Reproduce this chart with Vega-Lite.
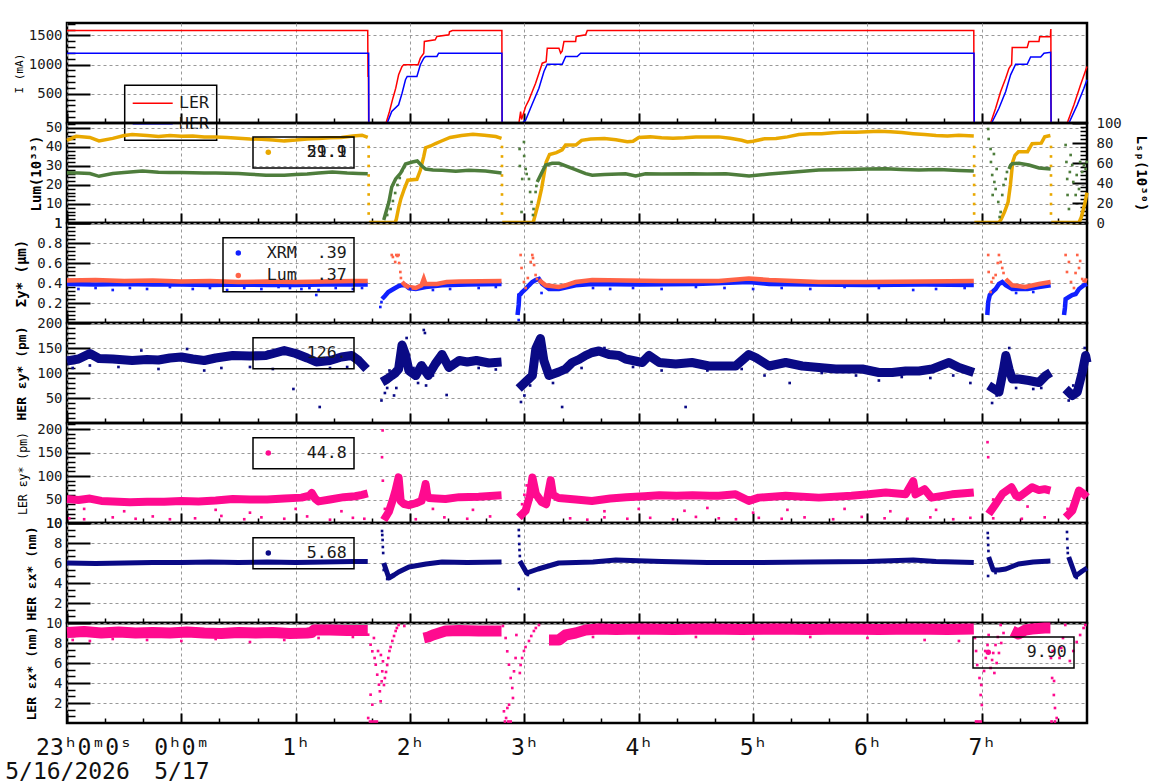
{
"$schema":"https://vega.github.io/schema/vega-lite/v6.json",
"background":"white",
"padding":{"left":0,"top":21,"right":5,"bottom":2},
"autosize":{"type":"pad"},
"config":{
 "font":"DejaVu Sans Mono",
 "view":{"stroke":"#000","strokeWidth":2.5},
 "axis":{"labelFont":"DejaVu Sans Mono","labelFontSize":14,"labelColor":"#1a1a1a","titleFont":"DejaVu Sans Mono","titleColor":"#000","tickColor":"#000","domain":false,"gridColor":"#999999","gridDash":[3,3],"gridWidth":1,"labelFlush":false,"labelOverlap":false,"zindex":0},
 "legend":{"labelFont":"DejaVu Sans Mono","labelFontSize":16.6,"labelColor":"#1a1a1a","strokeWidth":1.5,"titleFontSize":1}
},
"datasets":{
"cur":[
{"t":-1,"v":1585,"s":"LER"},{"t":1.63,"v":1585,"s":"LER"},{"t":1.632,"v":800,"s":"LER"},{"t":1.636,"v":800,"s":"LER"},{"t":1.638,"v":0,"s":"LER"},{"t":1.79,"v":0,"s":"LER"},{"t":1.82,"v":197,"s":"LER"},{"t":1.85,"v":425,"s":"LER"},{"t":1.875,"v":596,"s":"LER"},{"t":1.9,"v":825,"s":"LER"},{"t":1.93,"v":967,"s":"LER"},{"t":1.945,"v":997,"s":"LER"},{"t":2.07,"v":997,"s":"LER"},{"t":2.09,"v":1110,"s":"LER"},{"t":2.12,"v":1195,"s":"LER"},{"t":2.125,"v":1396,"s":"LER"},{"t":2.22,"v":1424,"s":"LER"},{"t":2.235,"v":1481,"s":"LER"},{"t":2.34,"v":1510,"s":"LER"},{"t":2.345,"v":1560,"s":"LER"},{"t":2.37,"v":1584,"s":"LER"},{"t":2.803,"v":1584,"s":"LER"},{"t":2.805,"v":0,"s":"LER"},{"t":2.952,"v":0,"s":"LER"},{"t":2.967,"v":197,"s":"LER"},{"t":2.975,"v":60,"s":"LER"},{"t":3.011,"v":283,"s":"LER"},{"t":3.04,"v":396,"s":"LER"},{"t":3.069,"v":538,"s":"LER"},{"t":3.098,"v":681,"s":"LER"},{"t":3.127,"v":853,"s":"LER"},{"t":3.156,"v":1024,"s":"LER"},{"t":3.19,"v":1050,"s":"LER"},{"t":3.2,"v":1281,"s":"LER"},{"t":3.302,"v":1281,"s":"LER"},{"t":3.317,"v":1195,"s":"LER"},{"t":3.33,"v":1230,"s":"LER"},{"t":3.346,"v":1396,"s":"LER"},{"t":3.448,"v":1396,"s":"LER"},{"t":3.453,"v":1481,"s":"LER"},{"t":3.536,"v":1510,"s":"LER"},{"t":3.55,"v":1584,"s":"LER"},{"t":6.93,"v":1584,"s":"LER"},{"t":6.932,"v":0,"s":"LER"},{"t":7.077,"v":0,"s":"LER"},{"t":7.121,"v":253,"s":"LER"},{"t":7.165,"v":539,"s":"LER"},{"t":7.209,"v":767,"s":"LER"},{"t":7.238,"v":938,"s":"LER"},{"t":7.261,"v":1005,"s":"LER"},{"t":7.266,"v":1293,"s":"LER"},{"t":7.397,"v":1293,"s":"LER"},{"t":7.412,"v":1396,"s":"LER"},{"t":7.5,"v":1396,"s":"LER"},{"t":7.506,"v":1476,"s":"LER"},{"t":7.6,"v":1476,"s":"LER"},{"t":7.602,"v":1567,"s":"LER"},{"t":7.604,"v":1610,"s":"LER"},{"t":7.606,"v":0,"s":"LER"},{"t":7.747,"v":0,"s":"LER"},{"t":7.806,"v":311,"s":"LER"},{"t":7.864,"v":653,"s":"LER"},{"t":7.92,"v":967,"s":"LER"},
{"t":-1,"v":1195,"s":"HER"},{"t":1.638,"v":1195,"s":"HER"},{"t":1.64,"v":0,"s":"HER"},{"t":1.8,"v":0,"s":"HER"},{"t":1.84,"v":197,"s":"HER"},{"t":1.9,"v":311,"s":"HER"},{"t":1.93,"v":510,"s":"HER"},{"t":1.96,"v":740,"s":"HER"},{"t":1.975,"v":796,"s":"HER"},{"t":2.06,"v":796,"s":"HER"},{"t":2.09,"v":997,"s":"HER"},{"t":2.12,"v":1110,"s":"HER"},{"t":2.135,"v":1139,"s":"HER"},{"t":2.235,"v":1139,"s":"HER"},{"t":2.25,"v":1195,"s":"HER"},{"t":2.803,"v":1195,"s":"HER"},{"t":2.805,"v":0,"s":"HER"},{"t":2.981,"v":0,"s":"HER"},{"t":3.011,"v":50,"s":"HER"},{"t":3.066,"v":311,"s":"HER"},{"t":3.127,"v":596,"s":"HER"},{"t":3.171,"v":881,"s":"HER"},{"t":3.2,"v":1005,"s":"HER"},{"t":3.331,"v":1005,"s":"HER"},{"t":3.361,"v":1139,"s":"HER"},{"t":3.462,"v":1139,"s":"HER"},{"t":3.492,"v":1195,"s":"HER"},{"t":6.932,"v":1195,"s":"HER"},{"t":6.934,"v":0,"s":"HER"},{"t":7.086,"v":0,"s":"HER"},{"t":7.15,"v":253,"s":"HER"},{"t":7.209,"v":539,"s":"HER"},{"t":7.252,"v":824,"s":"HER"},{"t":7.296,"v":1005,"s":"HER"},{"t":7.397,"v":1005,"s":"HER"},{"t":7.427,"v":1131,"s":"HER"},{"t":7.515,"v":1131,"s":"HER"},{"t":7.544,"v":1195,"s":"HER"},{"t":7.602,"v":1210,"s":"HER"},{"t":7.606,"v":0,"s":"HER"},{"t":7.762,"v":0,"s":"HER"},{"t":7.835,"v":311,"s":"HER"},{"t":7.893,"v":596,"s":"HER"},{"t":7.92,"v":740,"s":"HER"}
],
"lum":[
{"t":-1,"v":43.5,"g":1},{"t":-0.92,"v":45.6,"g":1},{"t":-0.8,"v":45,"g":1},{"t":-0.72,"v":43.2,"g":1},{"t":-0.6,"v":44.5,"g":1},{"t":-0.5,"v":46,"g":1},{"t":-0.43,"v":46.5,"g":1},{"t":-0.3,"v":46,"g":1},{"t":-0.2,"v":45.5,"g":1},{"t":-0.1,"v":46,"g":1},{"t":0,"v":45.6,"g":1},{"t":0.1,"v":45.8,"g":1},{"t":0.2,"v":45.3,"g":1},{"t":0.3,"v":45.2,"g":1},{"t":0.4,"v":45,"g":1},{"t":0.5,"v":44.6,"g":1},{"t":0.6,"v":44.2,"g":1},{"t":0.7,"v":44,"g":1},{"t":0.8,"v":43.7,"g":1},{"t":0.9,"v":43.2,"g":1},{"t":1,"v":43.6,"g":1},{"t":1.1,"v":44.2,"g":1},{"t":1.2,"v":44.4,"g":1},{"t":1.3,"v":44.8,"g":1},{"t":1.4,"v":45,"g":1},{"t":1.5,"v":45.8,"g":1},{"t":1.58,"v":46.2,"g":1},{"t":1.63,"v":45,"g":1},
{"t":1.64,"v":0.3,"g":2},{"t":1.87,"v":0.3,"g":2},{"t":1.88,"v":2,"g":2},{"t":1.9,"v":8,"g":2},{"t":1.92,"v":12.8,"g":2},{"t":1.95,"v":18,"g":2},{"t":1.98,"v":22.5,"g":2},{"t":2.06,"v":23,"g":2},{"t":2.09,"v":27.7,"g":2},{"t":2.12,"v":35,"g":2},{"t":2.136,"v":39.6,"g":2},{"t":2.18,"v":40.5,"g":2},{"t":2.223,"v":41.8,"g":2},{"t":2.27,"v":43,"g":2},{"t":2.35,"v":45,"g":2},{"t":2.45,"v":46,"g":2},{"t":2.55,"v":46.7,"g":2},{"t":2.65,"v":46.2,"g":2},{"t":2.75,"v":45.5,"g":2},{"t":2.8,"v":44.5,"g":2},
{"t":2.806,"v":0.3,"g":3},{"t":3.07,"v":0.3,"g":3},{"t":3.08,"v":1,"g":3},{"t":3.12,"v":10,"g":3},{"t":3.15,"v":18,"g":3},{"t":3.17,"v":25,"g":3},{"t":3.19,"v":32,"g":3},{"t":3.22,"v":36,"g":3},{"t":3.28,"v":37,"g":3},{"t":3.33,"v":38.5,"g":3},{"t":3.36,"v":41,"g":3},{"t":3.45,"v":41,"g":3},{"t":3.5,"v":43.5,"g":3},{"t":3.58,"v":44.2,"g":3},{"t":3.7,"v":44.4,"g":3},{"t":3.8,"v":43.8,"g":3},{"t":3.9,"v":42.8,"g":3},{"t":3.95,"v":43,"g":3},{"t":4,"v":45,"g":3},{"t":4.1,"v":45.3,"g":3},{"t":4.2,"v":44.8,"g":3},{"t":4.3,"v":44.6,"g":3},{"t":4.4,"v":44.8,"g":3},{"t":4.5,"v":45.2,"g":3},{"t":4.6,"v":45.3,"g":3},{"t":4.7,"v":45.3,"g":3},{"t":4.8,"v":44.6,"g":3},{"t":4.9,"v":43.5,"g":3},{"t":4.95,"v":42.6,"g":3},{"t":5,"v":43,"g":3},{"t":5.1,"v":44.3,"g":3},{"t":5.2,"v":44.5,"g":3},{"t":5.3,"v":45.3,"g":3},{"t":5.4,"v":46.5,"g":3},{"t":5.5,"v":47,"g":3},{"t":5.6,"v":47,"g":3},{"t":5.7,"v":47.5,"g":3},{"t":5.8,"v":47.8,"g":3},{"t":5.9,"v":47.8,"g":3},{"t":6,"v":48,"g":3},{"t":6.1,"v":48.2,"g":3},{"t":6.2,"v":48,"g":3},{"t":6.3,"v":47.6,"g":3},{"t":6.4,"v":47,"g":3},{"t":6.5,"v":46.5,"g":3},{"t":6.6,"v":46,"g":3},{"t":6.7,"v":45.8,"g":3},{"t":6.8,"v":46.2,"g":3},{"t":6.93,"v":45.8,"g":3},
{"t":6.935,"v":0.3,"g":4},{"t":7.15,"v":0.3,"g":4},{"t":7.17,"v":2,"g":4},{"t":7.2,"v":6,"g":4},{"t":7.23,"v":11,"g":4},{"t":7.25,"v":20,"g":4},{"t":7.27,"v":32,"g":4},{"t":7.29,"v":35.6,"g":4},{"t":7.32,"v":37.5,"g":4},{"t":7.4,"v":37.5,"g":4},{"t":7.44,"v":41.7,"g":4},{"t":7.52,"v":42,"g":4},{"t":7.55,"v":45.3,"g":4},{"t":7.6,"v":46,"g":4},
{"t":7.607,"v":0.3,"g":5},{"t":7.85,"v":0.3,"g":5},{"t":7.87,"v":3,"g":5},{"t":7.9,"v":10,"g":5},{"t":7.92,"v":16,"g":5}
],
"lumPts":[
{"t":1.638,"v":40},{"t":1.638,"v":35},{"t":1.638,"v":30},{"t":1.638,"v":25},{"t":1.638,"v":20},{"t":1.638,"v":15},{"t":1.638,"v":10},{"t":1.638,"v":5},
{"t":2.804,"v":40},{"t":2.804,"v":35},{"t":2.804,"v":30},{"t":2.804,"v":25},{"t":2.804,"v":20},{"t":2.804,"v":15},{"t":2.804,"v":10},{"t":2.804,"v":5},
{"t":6.933,"v":40},{"t":6.933,"v":35},{"t":6.933,"v":30},{"t":6.933,"v":25},{"t":6.933,"v":20},{"t":6.933,"v":15},{"t":6.933,"v":10},{"t":6.933,"v":5},
{"t":7.605,"v":40},{"t":7.605,"v":35},{"t":7.605,"v":30},{"t":7.605,"v":25},{"t":7.605,"v":20},{"t":7.605,"v":15},{"t":7.605,"v":10},{"t":7.605,"v":5}
],
"lsp":[
{"t":-1,"v":50.3,"g":1},{"t":-0.9,"v":50,"g":1},{"t":-0.8,"v":49.5,"g":1},{"t":-0.72,"v":46.7,"g":1},{"t":-0.6,"v":49.5,"g":1},{"t":-0.5,"v":50.5,"g":1},{"t":-0.34,"v":52,"g":1},{"t":-0.2,"v":50.8,"g":1},{"t":-0.1,"v":50.5,"g":1},{"t":0,"v":50.5,"g":1},{"t":0.1,"v":50.3,"g":1},{"t":0.2,"v":50,"g":1},{"t":0.3,"v":50,"g":1},{"t":0.4,"v":49.8,"g":1},{"t":0.5,"v":49.5,"g":1},{"t":0.6,"v":48.8,"g":1},{"t":0.74,"v":47.7,"g":1},{"t":0.9,"v":47.8,"g":1},{"t":1,"v":48.5,"g":1},{"t":1.1,"v":49,"g":1},{"t":1.2,"v":50,"g":1},{"t":1.32,"v":51,"g":1},{"t":1.45,"v":50,"g":1},{"t":1.55,"v":49.5,"g":1},{"t":1.63,"v":49.3,"g":1},
{"t":1.77,"v":3,"g":2},{"t":1.815,"v":21,"g":2},{"t":1.84,"v":36,"g":2},{"t":1.874,"v":44,"g":2},{"t":1.918,"v":50,"g":2},{"t":1.96,"v":59,"g":2},{"t":2.02,"v":61,"g":2},{"t":2.063,"v":62,"g":2},{"t":2.104,"v":57,"g":2},{"t":2.136,"v":54,"g":2},{"t":2.2,"v":53,"g":2},{"t":2.28,"v":52.7,"g":2},{"t":2.4,"v":51.7,"g":2},{"t":2.515,"v":52.7,"g":2},{"t":2.66,"v":52,"g":2},{"t":2.8,"v":50,"g":2},
{"t":3.112,"v":41,"g":3},{"t":3.142,"v":48,"g":3},{"t":3.186,"v":58,"g":3},{"t":3.243,"v":59.7,"g":3},{"t":3.302,"v":59.7,"g":3},{"t":3.418,"v":54.7,"g":3},{"t":3.536,"v":49.3,"g":3},{"t":3.593,"v":47.7,"g":3},{"t":3.7,"v":48.5,"g":3},{"t":3.885,"v":49.3,"g":3},{"t":3.973,"v":47,"g":3},{"t":4.06,"v":49.3,"g":3},{"t":4.2,"v":49,"g":3},{"t":4.465,"v":49.3,"g":3},{"t":4.6,"v":49,"g":3},{"t":4.762,"v":49.3,"g":3},{"t":4.965,"v":47,"g":3},{"t":5.14,"v":49,"g":3},{"t":5.31,"v":50.5,"g":3},{"t":5.575,"v":53,"g":3},{"t":5.84,"v":53.5,"g":3},{"t":6,"v":54,"g":3},{"t":6.16,"v":54.3,"g":3},{"t":6.3,"v":53.5,"g":3},{"t":6.45,"v":53,"g":3},{"t":6.625,"v":53.5,"g":3},{"t":6.8,"v":52.5,"g":3},{"t":6.93,"v":52,"g":3},
{"t":7.238,"v":54,"g":4},{"t":7.252,"v":57.7,"g":4},{"t":7.266,"v":59.3,"g":4},{"t":7.325,"v":59.7,"g":4},{"t":7.412,"v":58,"g":4},{"t":7.5,"v":55,"g":4},{"t":7.602,"v":54,"g":4}
],
"lspPts":[
{"t":1.8,"v":8},{"t":1.83,"v":14},{"t":1.85,"v":22},{"t":1.87,"v":30},{"t":1.89,"v":38},{"t":1.91,"v":45},{"t":1.93,"v":52},{"t":1.95,"v":56},
{"t":2.958,"v":74},{"t":2.96,"v":57},{"t":2.981,"v":44},{"t":2.975,"v":11},{"t":2.996,"v":81},{"t":2.998,"v":67},{"t":3.011,"v":54},{"t":3.02,"v":49},{"t":3.04,"v":44},{"t":3.05,"v":31},{"t":3.063,"v":21},{"t":3.075,"v":8},{"t":3.08,"v":14},{"t":3.098,"v":31},{"t":3.105,"v":37},
{"t":7.056,"v":94},{"t":7.06,"v":84},{"t":7.077,"v":74},{"t":7.08,"v":61},{"t":7.091,"v":48},{"t":7.095,"v":28},{"t":7.106,"v":69},{"t":7.11,"v":41},{"t":7.121,"v":34},{"t":7.13,"v":54},{"t":7.144,"v":21},{"t":7.156,"v":6},{"t":7.165,"v":11},{"t":7.179,"v":28},{"t":7.19,"v":38},{"t":7.209,"v":44},{"t":7.22,"v":51},
{"t":7.733,"v":78},{"t":7.74,"v":61},{"t":7.747,"v":44},{"t":7.75,"v":28},{"t":7.762,"v":14},{"t":7.77,"v":51},{"t":7.777,"v":68},{"t":7.791,"v":58},{"t":7.8,"v":41},{"t":7.821,"v":28},{"t":7.83,"v":48},{"t":7.85,"v":34},{"t":7.86,"v":61},{"t":7.878,"v":51},{"t":7.893,"v":58},{"t":7.908,"v":54},{"t":7.918,"v":61}
],
"slum":[
{"t":-1,"v":0.425,"g":1},{"t":-0.75,"v":0.43,"g":1},{"t":-0.5,"v":0.42,"g":1},{"t":-0.25,"v":0.425,"g":1},{"t":0,"v":0.415,"g":1},{"t":0.25,"v":0.42,"g":1},{"t":0.5,"v":0.41,"g":1},{"t":0.75,"v":0.415,"g":1},{"t":1,"v":0.41,"g":1},{"t":1.25,"v":0.415,"g":1},{"t":1.5,"v":0.42,"g":1},{"t":1.63,"v":0.42,"g":1},
{"t":1.93,"v":0.41,"g":2},{"t":1.96,"v":0.377,"g":2},{"t":1.99,"v":0.36,"g":2},{"t":2.05,"v":0.35,"g":2},{"t":2.1,"v":0.377,"g":2},{"t":2.12,"v":0.44,"g":2},{"t":2.135,"v":0.39,"g":2},{"t":2.235,"v":0.39,"g":2},{"t":2.32,"v":0.41,"g":2},{"t":2.43,"v":0.415,"g":2},{"t":2.8,"v":0.42,"g":2},
{"t":3.127,"v":0.43,"g":3},{"t":3.186,"v":0.377,"g":3},{"t":3.3,"v":0.36,"g":3},{"t":3.36,"v":0.377,"g":3},{"t":3.448,"v":0.41,"g":3},{"t":3.593,"v":0.43,"g":3},{"t":3.885,"v":0.425,"g":3},{"t":4.2,"v":0.42,"g":3},{"t":4.465,"v":0.42,"g":3},{"t":4.7,"v":0.42,"g":3},{"t":4.963,"v":0.445,"g":3},{"t":5.14,"v":0.43,"g":3},{"t":5.575,"v":0.41,"g":3},{"t":6,"v":0.41,"g":3},{"t":6.5,"v":0.415,"g":3},{"t":6.93,"v":0.42,"g":3},
{"t":7.209,"v":0.44,"g":4},{"t":7.266,"v":0.377,"g":4},{"t":7.38,"v":0.36,"g":4},{"t":7.5,"v":0.39,"g":4},{"t":7.602,"v":0.41,"g":4},
{"t":7.893,"v":0.43,"g":5},{"t":7.92,"v":0.42,"g":5}
],
"slumPts":[
{"t":1.84,"v":0.68},{"t":1.85,"v":0.66},{"t":1.87,"v":0.61},{"t":1.88,"v":0.68},{"t":1.89,"v":0.67},{"t":1.9,"v":0.68},{"t":1.905,"v":0.6},{"t":1.915,"v":0.51},{"t":1.92,"v":0.45},
{"t":2.967,"v":0.68},{"t":2.975,"v":0.55},{"t":2.996,"v":0.41},{"t":3.011,"v":0.35},{"t":3.03,"v":0.45},{"t":3.055,"v":0.61},{"t":3.069,"v":0.68},{"t":3.075,"v":0.65},{"t":3.085,"v":0.58},{"t":3.098,"v":0.48},{"t":3.11,"v":0.44},
{"t":7.056,"v":0.68},{"t":7.06,"v":0.51},{"t":7.077,"v":0.31},{"t":7.085,"v":0.41},{"t":7.1,"v":0.45},{"t":7.121,"v":0.48},{"t":7.14,"v":0.6},{"t":7.15,"v":0.68},{"t":7.165,"v":0.61},{"t":7.179,"v":0.55},{"t":7.19,"v":0.5},
{"t":7.733,"v":0.68},{"t":7.745,"v":0.51},{"t":7.762,"v":0.61},{"t":7.78,"v":0.41},{"t":7.806,"v":0.35},{"t":7.82,"v":0.5},{"t":7.835,"v":0.68},{"t":7.85,"v":0.55},{"t":7.86,"v":0.62},{"t":7.878,"v":0.44},{"t":7.89,"v":0.42}
],
"sxrm":[
{"t":-1,"v":0.39,"g":1},{"t":-0.75,"v":0.385,"g":1},{"t":-0.5,"v":0.39,"g":1},{"t":-0.25,"v":0.385,"g":1},{"t":0,"v":0.385,"g":1},{"t":0.25,"v":0.38,"g":1},{"t":0.5,"v":0.385,"g":1},{"t":0.75,"v":0.38,"g":1},{"t":1,"v":0.38,"g":1},{"t":1.25,"v":0.385,"g":1},{"t":1.5,"v":0.385,"g":1},{"t":1.63,"v":0.385,"g":1},
{"t":1.755,"v":0.24,"g":2},{"t":1.78,"v":0.27,"g":2},{"t":1.81,"v":0.31,"g":2},{"t":1.84,"v":0.33,"g":2},{"t":1.87,"v":0.35,"g":2},{"t":1.9,"v":0.37,"g":2},{"t":1.93,"v":0.38,"g":2},{"t":1.96,"v":0.377,"g":2},{"t":1.99,"v":0.35,"g":2},{"t":2.05,"v":0.34,"g":2},{"t":2.136,"v":0.36,"g":2},{"t":2.28,"v":0.377,"g":2},{"t":2.5,"v":0.385,"g":2},{"t":2.8,"v":0.39,"g":2},
{"t":2.94,"v":0.08,"g":3},{"t":2.95,"v":0.18,"g":3},{"t":2.955,"v":0.28,"g":3},{"t":2.967,"v":0.29,"g":3},{"t":2.981,"v":0.31,"g":3},{"t":3.011,"v":0.34,"g":3},{"t":3.04,"v":0.377,"g":3},{"t":3.069,"v":0.41,"g":3},{"t":3.098,"v":0.43,"g":3},{"t":3.127,"v":0.44,"g":3},{"t":3.156,"v":0.39,"g":3},{"t":3.215,"v":0.34,"g":3},{"t":3.302,"v":0.34,"g":3},{"t":3.448,"v":0.377,"g":3},{"t":3.593,"v":0.39,"g":3},{"t":4,"v":0.385,"g":3},{"t":4.5,"v":0.39,"g":3},{"t":4.963,"v":0.41,"g":3},{"t":5.14,"v":0.39,"g":3},{"t":5.5,"v":0.385,"g":3},{"t":6,"v":0.38,"g":3},{"t":6.5,"v":0.385,"g":3},{"t":6.93,"v":0.38,"g":3},
{"t":7.048,"v":0.08,"g":4},{"t":7.056,"v":0.21,"g":4},{"t":7.07,"v":0.28,"g":4},{"t":7.091,"v":0.31,"g":4},{"t":7.121,"v":0.34,"g":4},{"t":7.15,"v":0.39,"g":4},{"t":7.179,"v":0.41,"g":4},{"t":7.209,"v":0.377,"g":4},{"t":7.266,"v":0.34,"g":4},{"t":7.4,"v":0.34,"g":4},{"t":7.5,"v":0.36,"g":4},{"t":7.602,"v":0.377,"g":4},
{"t":7.719,"v":0.08,"g":5},{"t":7.727,"v":0.15,"g":5},{"t":7.733,"v":0.24,"g":5},{"t":7.762,"v":0.26,"g":5},{"t":7.79,"v":0.28,"g":5},{"t":7.821,"v":0.29,"g":5},{"t":7.85,"v":0.34,"g":5},{"t":7.893,"v":0.377,"g":5},{"t":7.92,"v":0.39,"g":5}
],
"sxrmPts":[
{"t":-0.9,"v":0.34},{"t":-0.75,"v":0.35},{"t":-0.6,"v":0.33},{"t":-0.45,"v":0.35},{"t":-0.3,"v":0.34},{"t":-0.1,"v":0.36},{"t":0.1,"v":0.34},{"t":0.25,"v":0.35},{"t":0.4,"v":0.33},{"t":0.55,"v":0.35},{"t":0.7,"v":0.34},{"t":0.85,"v":0.36},{"t":0.95,"v":0.35},{"t":1.05,"v":0.34},{"t":1.12,"v":0.35},{"t":1.18,"v":0.28},{"t":1.2,"v":0.33},{"t":1.35,"v":0.35},{"t":1.5,"v":0.34},{"t":1.58,"v":0.35},{"t":2,"v":0.34},{"t":2.2,"v":0.33},{"t":2.35,"v":0.34},{"t":2.6,"v":0.35},{"t":2.75,"v":0.36},{"t":3.6,"v":0.35},{"t":3.75,"v":0.34},{"t":3.95,"v":0.35},{"t":4.2,"v":0.34},{"t":4.5,"v":0.36},{"t":4.75,"v":0.35},{"t":5,"v":0.34},{"t":5.25,"v":0.35},{"t":5.5,"v":0.34},{"t":5.8,"v":0.36},{"t":6.1,"v":0.35},{"t":6.4,"v":0.33},{"t":6.6,"v":0.34},{"t":6.85,"v":0.35},{"t":1.74,"v":0.16},{"t":1.75,"v":0.21},{"t":2.945,"v":0.12},{"t":2.95,"v":0.03},{"t":7.05,"v":0.12},{"t":7.72,"v":0.11},{"t":3.15,"v":0.3},{"t":7.3,"v":0.3},{"t":7.45,"v":0.31}
],
"hey":[
{"t":-1,"v":124,"g":1},{"t":-0.9,"v":128,"g":1},{"t":-0.8,"v":139,"g":1},{"t":-0.72,"v":129,"g":1},{"t":-0.6,"v":128,"g":1},{"t":-0.43,"v":125,"g":1},{"t":-0.3,"v":127,"g":1},{"t":-0.2,"v":126,"g":1},{"t":-0.1,"v":130,"g":1},{"t":0,"v":132,"g":1},{"t":0.1,"v":128,"g":1},{"t":0.2,"v":125,"g":1},{"t":0.3,"v":130,"g":1},{"t":0.45,"v":135,"g":1},{"t":0.6,"v":134,"g":1},{"t":0.74,"v":135,"g":1},{"t":0.9,"v":145,"g":1},{"t":1,"v":139,"g":1},{"t":1.1,"v":130,"g":1},{"t":1.18,"v":122,"g":1},{"t":1.3,"v":125,"g":1},{"t":1.4,"v":132,"g":1},{"t":1.49,"v":135,"g":1},{"t":1.55,"v":125,"g":1},{"t":1.62,"v":108,"g":1},
{"t":1.755,"v":82,"g":2},{"t":1.8,"v":88,"g":2},{"t":1.84,"v":95,"g":2},{"t":1.87,"v":100,"g":2},{"t":1.9,"v":108,"g":2},{"t":1.93,"v":156,"g":2},{"t":1.96,"v":137,"g":2},{"t":1.99,"v":105,"g":2},{"t":2.05,"v":95,"g":2},{"t":2.1,"v":115,"g":2},{"t":2.16,"v":95,"g":2},{"t":2.22,"v":118,"g":2},{"t":2.28,"v":137,"g":2},{"t":2.34,"v":111,"g":2},{"t":2.43,"v":125,"g":2},{"t":2.5,"v":122,"g":2},{"t":2.58,"v":125,"g":2},{"t":2.69,"v":120,"g":2},{"t":2.8,"v":122,"g":2},
{"t":2.95,"v":69,"g":3},{"t":3.01,"v":82,"g":3},{"t":3.07,"v":95,"g":3},{"t":3.1,"v":149,"g":3},{"t":3.14,"v":169,"g":3},{"t":3.17,"v":125,"g":3},{"t":3.215,"v":95,"g":3},{"t":3.3,"v":102,"g":3},{"t":3.36,"v":108,"g":3},{"t":3.418,"v":121,"g":3},{"t":3.477,"v":127,"g":3},{"t":3.535,"v":135,"g":3},{"t":3.593,"v":141,"g":3},{"t":3.652,"v":144,"g":3},{"t":3.74,"v":137,"g":3},{"t":3.827,"v":135,"g":3},{"t":3.885,"v":128,"g":3},{"t":4.03,"v":121,"g":3},{"t":4.09,"v":135,"g":3},{"t":4.18,"v":121,"g":3},{"t":4.323,"v":118,"g":3},{"t":4.465,"v":121,"g":3},{"t":4.614,"v":114,"g":3},{"t":4.762,"v":114,"g":3},{"t":4.847,"v":114,"g":3},{"t":4.963,"v":137,"g":3},{"t":5.022,"v":131,"g":3},{"t":5.14,"v":114,"g":3},{"t":5.285,"v":121,"g":3},{"t":5.43,"v":114,"g":3},{"t":5.575,"v":111,"g":3},{"t":5.722,"v":108,"g":3},{"t":5.955,"v":108,"g":3},{"t":6.1,"v":101,"g":3},{"t":6.217,"v":101,"g":3},{"t":6.334,"v":104,"g":3},{"t":6.45,"v":104,"g":3},{"t":6.567,"v":108,"g":3},{"t":6.713,"v":121,"g":3},{"t":6.8,"v":111,"g":3},{"t":6.93,"v":101,"g":3},
{"t":7.06,"v":75,"g":4},{"t":7.15,"v":62,"g":4},{"t":7.19,"v":108,"g":4},{"t":7.21,"v":135,"g":4},{"t":7.238,"v":108,"g":4},{"t":7.266,"v":88,"g":4},{"t":7.325,"v":88,"g":4},{"t":7.412,"v":85,"g":4},{"t":7.5,"v":81,"g":4},{"t":7.56,"v":95,"g":4},{"t":7.602,"v":101,"g":4},
{"t":7.733,"v":68,"g":5},{"t":7.791,"v":55,"g":5},{"t":7.835,"v":62,"g":5},{"t":7.878,"v":101,"g":5},{"t":7.908,"v":135,"g":5},{"t":7.92,"v":121,"g":5}
],
"heyPts":[
{"t":-0.95,"v":110},{"t":-0.8,"v":115},{"t":-0.55,"v":112},{"t":-0.35,"v":145},{"t":-0.2,"v":108},{"t":0.05,"v":148},{"t":0.2,"v":105},{"t":0.35,"v":110},{"t":0.6,"v":112},{"t":0.8,"v":108},{"t":0.98,"v":68},{"t":1.21,"v":32},{"t":1.3,"v":110},{"t":1.45,"v":112},{"t":1.75,"v":45},{"t":1.78,"v":60},{"t":1.8,"v":70},{"t":1.82,"v":105},{"t":1.86,"v":55},{"t":1.88,"v":70},{"t":1.97,"v":170},{"t":2.12,"v":186},{"t":2.13,"v":180},{"t":2.03,"v":110},{"t":2.07,"v":80},{"t":2.14,"v":75},{"t":2.2,"v":95},{"t":2.32,"v":56},{"t":2.6,"v":110},{"t":2.75,"v":107},{"t":2.97,"v":42},{"t":3,"v":55},{"t":3.05,"v":75},{"t":3.13,"v":160},{"t":3.12,"v":140},{"t":3.25,"v":80},{"t":3.33,"v":32},{"t":3.5,"v":110},{"t":3.7,"v":150},{"t":3.95,"v":112},{"t":4.2,"v":105},{"t":4.41,"v":32},{"t":4.6,"v":105},{"t":4.9,"v":108},{"t":5.1,"v":95},{"t":5.32,"v":80},{"t":5.6,"v":100},{"t":5.9,"v":95},{"t":6.1,"v":85},{"t":6.3,"v":92},{"t":6.55,"v":90},{"t":6.75,"v":95},{"t":6.9,"v":80},{"t":7.09,"v":40},{"t":7.13,"v":55},{"t":7.17,"v":70},{"t":7.24,"v":150},{"t":7.3,"v":70},{"t":7.45,"v":68},{"t":7.52,"v":70},{"t":7.76,"v":45},{"t":7.8,"v":75},{"t":7.87,"v":90},{"t":7.9,"v":150}
],
"ley":[
{"t":-1,"v":51,"g":1},{"t":-0.9,"v":49,"g":1},{"t":-0.8,"v":52,"g":1},{"t":-0.7,"v":47,"g":1},{"t":-0.6,"v":46,"g":1},{"t":-0.45,"v":44,"g":1},{"t":-0.3,"v":45,"g":1},{"t":-0.15,"v":45,"g":1},{"t":0,"v":47,"g":1},{"t":0.15,"v":46,"g":1},{"t":0.3,"v":48,"g":1},{"t":0.45,"v":51,"g":1},{"t":0.6,"v":50,"g":1},{"t":0.75,"v":50,"g":1},{"t":0.9,"v":52,"g":1},{"t":1.05,"v":54,"g":1},{"t":1.12,"v":58,"g":1},{"t":1.14,"v":64,"g":1},{"t":1.17,"v":52,"g":1},{"t":1.2,"v":46,"g":1},{"t":1.3,"v":50,"g":1},{"t":1.42,"v":55,"g":1},{"t":1.52,"v":57,"g":1},{"t":1.58,"v":60,"g":1},{"t":1.63,"v":63,"g":1},
{"t":1.77,"v":6,"g":2},{"t":1.815,"v":24,"g":2},{"t":1.85,"v":50,"g":2},{"t":1.874,"v":70,"g":2},{"t":1.9,"v":97,"g":2},{"t":1.918,"v":47,"g":2},{"t":1.95,"v":40,"g":2},{"t":1.99,"v":38,"g":2},{"t":2.05,"v":42,"g":2},{"t":2.1,"v":47,"g":2},{"t":2.125,"v":70,"g":2},{"t":2.136,"v":83,"g":2},{"t":2.15,"v":60,"g":2},{"t":2.166,"v":53,"g":2},{"t":2.23,"v":52,"g":2},{"t":2.31,"v":51,"g":2},{"t":2.43,"v":55,"g":2},{"t":2.6,"v":56,"g":2},{"t":2.8,"v":59,"g":2},
{"t":2.952,"v":12,"g":3},{"t":3.01,"v":26,"g":3},{"t":3.05,"v":60,"g":3},{"t":3.07,"v":97,"g":3},{"t":3.1,"v":62,"g":3},{"t":3.15,"v":45,"g":3},{"t":3.19,"v":40,"g":3},{"t":3.23,"v":91,"g":3},{"t":3.25,"v":60,"g":3},{"t":3.3,"v":53,"g":3},{"t":3.45,"v":50,"g":3},{"t":3.59,"v":47,"g":3},{"t":3.75,"v":52,"g":3},{"t":3.89,"v":55,"g":3},{"t":4.05,"v":57,"g":3},{"t":4.18,"v":59,"g":3},{"t":4.33,"v":58,"g":3},{"t":4.47,"v":59,"g":3},{"t":4.62,"v":58,"g":3},{"t":4.7,"v":58,"g":3},{"t":4.847,"v":61,"g":3},{"t":4.963,"v":47,"g":3},{"t":5.05,"v":54,"g":3},{"t":5.285,"v":58,"g":3},{"t":5.575,"v":54,"g":3},{"t":5.86,"v":58,"g":3},{"t":6.01,"v":61,"g":3},{"t":6.16,"v":65,"g":3},{"t":6.334,"v":61,"g":3},{"t":6.4,"v":89,"g":3},{"t":6.42,"v":61,"g":3},{"t":6.5,"v":72,"g":3},{"t":6.56,"v":54,"g":3},{"t":6.74,"v":61,"g":3},{"t":6.93,"v":65,"g":3},
{"t":7.06,"v":19,"g":4},{"t":7.12,"v":40,"g":4},{"t":7.18,"v":62,"g":4},{"t":7.26,"v":76,"g":4},{"t":7.3,"v":58,"g":4},{"t":7.325,"v":55,"g":4},{"t":7.44,"v":76,"g":4},{"t":7.5,"v":70,"g":4},{"t":7.55,"v":72,"g":4},{"t":7.6,"v":69,"g":4},
{"t":7.733,"v":12,"g":5},{"t":7.791,"v":26,"g":5},{"t":7.85,"v":69,"g":5},{"t":7.89,"v":62,"g":5},{"t":7.92,"v":55,"g":5}
],
"leyPts":[
{"t":-0.98,"v":10},{"t":-0.85,"v":8},{"t":-0.6,"v":12},{"t":-0.4,"v":9},{"t":-0.25,"v":14},{"t":-0.1,"v":8},{"t":0.12,"v":10},{"t":0.35,"v":15},{"t":0.55,"v":8},{"t":0.7,"v":12},{"t":0.9,"v":9},{"t":1.1,"v":14},{"t":1.3,"v":7},{"t":1.5,"v":11},{"t":1.6,"v":9},{"t":2.05,"v":8},{"t":2.3,"v":12},{"t":2.5,"v":9},{"t":2.7,"v":14},{"t":3.4,"v":10},{"t":3.55,"v":7},{"t":3.7,"v":12},{"t":3.9,"v":9},{"t":4.1,"v":11},{"t":4.3,"v":8},{"t":4.5,"v":13},{"t":4.7,"v":10},{"t":4.85,"v":8},{"t":5.05,"v":11},{"t":5.25,"v":9},{"t":5.45,"v":12},{"t":5.7,"v":8},{"t":5.95,"v":13},{"t":6.15,"v":10},{"t":6.35,"v":9},{"t":6.55,"v":12},{"t":6.75,"v":8},{"t":6.9,"v":11},{"t":7.1,"v":10},{"t":7.35,"v":9},{"t":7.55,"v":12},
{"t":-0.85,"v":30},{"t":-0.5,"v":25},{"t":0.3,"v":28},{"t":0.6,"v":22},{"t":1,"v":30},{"t":1.4,"v":25},{"t":2.2,"v":30},{"t":2.55,"v":28},{"t":3.7,"v":25},{"t":4,"v":30},{"t":4.4,"v":26},{"t":4.6,"v":32},{"t":5,"v":22},{"t":5.3,"v":28},{"t":5.8,"v":30},{"t":6.2,"v":25},{"t":6.6,"v":28},{"t":7.4,"v":35},
{"t":1.76,"v":197},{"t":1.755,"v":140},{"t":1.762,"v":90},{"t":1.78,"v":30},{"t":1.79,"v":12},{"t":7.05,"v":172},{"t":7.056,"v":140},{"t":2.96,"v":20},{"t":2.98,"v":40},{"t":3,"v":60},{"t":3.02,"v":80},{"t":7.09,"v":30},{"t":7.1,"v":50},{"t":7.75,"v":30}
],
"hex":[
{"t":-1,"v":6,"g":1},{"t":-0.75,"v":5.95,"g":1},{"t":-0.5,"v":6,"g":1},{"t":-0.25,"v":6.05,"g":1},{"t":0,"v":6.05,"g":1},{"t":0.25,"v":6.1,"g":1},{"t":0.5,"v":6.05,"g":1},{"t":0.75,"v":6.1,"g":1},{"t":1,"v":6.05,"g":1},{"t":1.25,"v":6.1,"g":1},{"t":1.5,"v":6.15,"g":1},{"t":1.63,"v":6.15,"g":1},
{"t":1.77,"v":6,"g":2},{"t":1.815,"v":4.5,"g":2},{"t":1.86,"v":4.8,"g":2},{"t":1.9,"v":5.1,"g":2},{"t":1.99,"v":5.6,"g":2},{"t":2.14,"v":5.9,"g":2},{"t":2.28,"v":6.1,"g":2},{"t":2.5,"v":6.05,"g":2},{"t":2.8,"v":6.1,"g":2},
{"t":2.96,"v":6.2,"g":3},{"t":3.02,"v":5,"g":3},{"t":3.12,"v":5.4,"g":3},{"t":3.3,"v":6,"g":3},{"t":3.6,"v":6.1,"g":3},{"t":3.8,"v":6.3,"g":3},{"t":4.2,"v":6.15,"g":3},{"t":4.6,"v":6.05,"g":3},{"t":5,"v":6.05,"g":3},{"t":5.5,"v":6.1,"g":3},{"t":6,"v":6.15,"g":3},{"t":6.4,"v":6.3,"g":3},{"t":6.6,"v":6.15,"g":3},{"t":6.93,"v":6.05,"g":3},
{"t":7.06,"v":6.6,"g":4},{"t":7.1,"v":5.3,"g":4},{"t":7.15,"v":5.3,"g":4},{"t":7.21,"v":5.4,"g":4},{"t":7.32,"v":5.9,"g":4},{"t":7.45,"v":6.1,"g":4},{"t":7.6,"v":6.2,"g":4},
{"t":7.76,"v":6.6,"g":5},{"t":7.82,"v":4.7,"g":5},{"t":7.88,"v":5.2,"g":5},{"t":7.92,"v":5.5,"g":5}
],
"hexPts":[
{"t":1.755,"v":9.2},{"t":1.757,"v":8.8},{"t":1.76,"v":8.3},{"t":1.762,"v":7.6},{"t":1.765,"v":7},{"t":1.77,"v":5.3},{"t":2.951,"v":9.3},{"t":2.953,"v":8.7},{"t":2.955,"v":7.9},{"t":2.957,"v":7.3},{"t":2.96,"v":6.7},{"t":2.95,"v":3.4},{"t":7.052,"v":9},{"t":7.054,"v":8.5},{"t":7.056,"v":7.8},{"t":7.058,"v":7.2},{"t":7.055,"v":4.7},{"t":7.745,"v":9.1},{"t":7.747,"v":8.4},{"t":7.75,"v":7.5},{"t":7.752,"v":7},{"t":1.8,"v":4.4},{"t":3.03,"v":4.8},{"t":7.12,"v":5},{"t":7.83,"v":4.5}
],
"lex":[
{"t":-1,"v":9.05,"g":1},{"t":-0.85,"v":9.15,"g":1},{"t":-0.7,"v":9,"g":1},{"t":-0.55,"v":9.1,"g":1},{"t":-0.4,"v":9,"g":1},{"t":-0.25,"v":9.05,"g":1},{"t":-0.1,"v":9,"g":1},{"t":0.05,"v":9.1,"g":1},{"t":0.2,"v":9,"g":1},{"t":0.35,"v":8.95,"g":1},{"t":0.5,"v":9.05,"g":1},{"t":0.65,"v":9,"g":1},{"t":0.8,"v":9.05,"g":1},{"t":0.95,"v":8.95,"g":1},{"t":1.1,"v":9,"g":1},{"t":1.14,"v":9.05,"g":1},{"t":1.16,"v":9.3,"g":1},{"t":1.3,"v":9.3,"g":1},{"t":1.45,"v":9.25,"g":1},{"t":1.63,"v":9.25,"g":1},
{"t":2.12,"v":8.5,"g":3},{"t":2.16,"v":8.6,"g":3},{"t":2.2,"v":8.8,"g":3},{"t":2.31,"v":9.2,"g":3},{"t":2.43,"v":9.25,"g":3},{"t":2.6,"v":9.2,"g":3},{"t":2.8,"v":9.2,"g":3},
{"t":3.215,"v":8.3,"g":4},{"t":3.302,"v":8.3,"g":4},{"t":3.36,"v":8.8,"g":4},{"t":3.448,"v":9,"g":4},{"t":3.536,"v":9.3,"g":4},{"t":3.65,"v":9.4,"g":4},{"t":3.8,"v":9.35,"g":4},{"t":4,"v":9.4,"g":4},{"t":4.3,"v":9.35,"g":4},{"t":4.6,"v":9.4,"g":4},{"t":4.9,"v":9.35,"g":4},{"t":5.2,"v":9.4,"g":4},{"t":5.5,"v":9.35,"g":4},{"t":5.8,"v":9.4,"g":4},{"t":6.1,"v":9.35,"g":4},{"t":6.4,"v":9.4,"g":4},{"t":6.7,"v":9.35,"g":4},{"t":6.93,"v":9.4,"g":4},
{"t":7.266,"v":9.2,"g":5},{"t":7.32,"v":8.9,"g":5},{"t":7.38,"v":9.3,"g":5},{"t":7.44,"v":9.4,"g":5},{"t":7.55,"v":9.5,"g":5},{"t":7.6,"v":9.5,"g":5}
],
"lexPts":[
{"t":-0.95,"v":8.3},{"t":-0.8,"v":8.2},{"t":-0.6,"v":8.4},{"t":-0.3,"v":8.3},{"t":0,"v":8.2},{"t":0.3,"v":8.4},{"t":0.6,"v":8.1},{"t":0.9,"v":8.3},{"t":1.2,"v":8.5},{"t":1.5,"v":8.6},{"t":3.6,"v":8.6},{"t":4,"v":8.5},{"t":4.5,"v":8.6},{"t":5,"v":8.4},{"t":5.5,"v":8.6},{"t":6,"v":8.5},{"t":6.5,"v":8.3},{"t":6.8,"v":8.2},
{"t":1.634,"v":8.83},{"t":1.655,"v":7.83},{"t":1.67,"v":7.17},{"t":1.684,"v":8.5},{"t":1.7,"v":5.83},{"t":1.713,"v":4.83},{"t":1.728,"v":3.83},{"t":1.736,"v":3.17},{"t":1.743,"v":2.17},{"t":1.752,"v":4.17},{"t":1.757,"v":5.17},{"t":1.763,"v":6.17},{"t":1.655,"v":2.83},{"t":1.67,"v":1.83},{"t":1.634,"v":0.5},{"t":1.69,"v":6.5},{"t":1.72,"v":7.2},{"t":1.745,"v":6.8},{"t":1.65,"v":0.15},{"t":1.67,"v":0.15},{"t":1.69,"v":0.15},{"t":1.71,"v":0.15},
{"t":1.772,"v":3.8},{"t":1.78,"v":4.5},{"t":1.79,"v":5.1},{"t":1.8,"v":5.8},{"t":1.81,"v":6.5},{"t":1.82,"v":7.2},{"t":1.83,"v":7.6},{"t":1.845,"v":8.2},{"t":1.86,"v":8.7},{"t":1.874,"v":9.2},{"t":1.885,"v":9.5},{"t":1.9,"v":9.8},{"t":1.95,"v":9.7},
{"t":2.812,"v":9.7},{"t":2.821,"v":1.17},{"t":2.836,"v":8.5},{"t":2.85,"v":7.17},{"t":2.865,"v":5.83},{"t":2.88,"v":4.5},{"t":2.894,"v":3.5},{"t":2.9,"v":2.5},{"t":2.866,"v":1.83},{"t":2.851,"v":1.5},{"t":2.84,"v":0.5},{"t":2.909,"v":5.17},{"t":2.923,"v":6.5},{"t":2.93,"v":8.8},{"t":2.83,"v":0.15},{"t":2.86,"v":0.15},{"t":2.88,"v":0.15},
{"t":2.96,"v":5},{"t":2.967,"v":5.8},{"t":2.98,"v":6.5},{"t":2.996,"v":7.2},{"t":3.01,"v":7.6},{"t":3.04,"v":8.2},{"t":3.06,"v":8.7},{"t":3.083,"v":9.2},{"t":3.1,"v":9.5},{"t":3.127,"v":9.8},
{"t":6.94,"v":8.5},{"t":6.95,"v":7.2},{"t":6.96,"v":5.8},{"t":6.98,"v":4.5},{"t":6.99,"v":2.8},{"t":7,"v":1.8},{"t":6.995,"v":3.8},{"t":7.02,"v":5.2},{"t":7.035,"v":6.5},{"t":7.03,"v":7.2},{"t":7.05,"v":7.8},{"t":7.06,"v":8.8},{"t":6.95,"v":0.15},{"t":6.97,"v":0.15},{"t":6.99,"v":0.15},
{"t":7.077,"v":5.5},{"t":7.09,"v":6.3},{"t":7.1,"v":7},{"t":7.12,"v":7.8},{"t":7.14,"v":8.6},{"t":7.165,"v":9.8},{"t":7.11,"v":5},{"t":7.13,"v":6},{"t":7.15,"v":7},{"t":7.17,"v":8},{"t":7.19,"v":9},
{"t":7.605,"v":6.5},{"t":7.615,"v":4.5},{"t":7.63,"v":2.8},{"t":7.64,"v":1.5},{"t":7.655,"v":0.5},{"t":7.632,"v":4.2},{"t":7.62,"v":7.2},{"t":7.61,"v":0.15},{"t":7.64,"v":0.15},
{"t":7.68,"v":6.5},{"t":7.695,"v":7.5},{"t":7.71,"v":8.5},{"t":7.73,"v":9.8},{"t":7.77,"v":6.2},{"t":7.8,"v":7.2},{"t":7.83,"v":8.1},{"t":7.86,"v":8.8},{"t":7.89,"v":9.5},{"t":7.905,"v":9.8}
]
},
"spacing":0,
"bounds":"flush",
"resolve":{"scale":{"x":"independent","y":"independent","color":"independent"},"axis":{"x":"independent","y":"independent"},"legend":{"color":"independent"}},
"vconcat":[
{
 "width":1020,"height":100,
 "layer":[
  {"data":{"name":"cur"},"mark":{"type":"line","strokeWidth":1.5},
   "encoding":{
    "x":{"field":"t","type":"quantitative","scale":{"domain":[-1,7.92],"nice":false,"zero":false},"axis":{"orient":"bottom","values":[-1,0,1,2,3,4,5,6,7],"labels":false,"tickSize":-10,"tickWidth":2,"grid":true,"title":null}},
    "y":{"field":"v","type":"quantitative","scale":{"domain":[0,1712],"nice":false,"zero":false},"axis":{"orient":"left","values":[500,1000,1500],"format":"d","tickSize":-23,"tickWidth":2,"labelPadding":28,"grid":true,"title":"I (mA)","titleFontSize":11,"titleFontWeight":"normal","titleX":-48,"titleY":50,"titleBaseline":"middle","titleAlign":"center"}},
    "color":{"field":"s","type":"nominal","scale":{"domain":["LER","HER"],"range":["#FF0000","#0000FF"]},"legend":{"orient":"none","legendX":57.7,"legendY":62.3,"padding":7,"rowPadding":0.5,"labelOffset":25.3,"symbolType":"M-1,0H3","symbolSize":400,"symbolStrokeWidth":1.5,"strokeColor":"#000","title":null}}
   }},
  {"data":{"name":"cur"},"mark":{"type":"line","opacity":0},
   "encoding":{
    "x":{"field":"t","type":"quantitative","scale":{"domain":[-1,7.92],"nice":false,"zero":false},"axis":{"orient":"bottom","values":[-0.6667,-0.3333,0.3333,0.6667,1.3333,1.6667,2.3333,2.6667,3.3333,3.6667,4.3333,4.6667,5.3333,5.6667,6.3333,6.6667,7.3333,7.6667],"labels":false,"tickSize":-5,"tickWidth":1.5,"grid":false,"title":null}},
    "y":{"field":"v","type":"quantitative","scale":{"domain":[0,1712],"nice":false,"zero":false},"axis":{"orient":"left","values":[100,200,300,400,600,700,800,900,1100,1200,1300,1400,1600,1700],"labels":false,"tickSize":-8,"tickWidth":1.5,"grid":false,"title":null}},
    "detail":{"field":"s"}
   }}
 ],
 "resolve":{"axis":{"x":"independent","y":"independent"}}
},
{
 "width":1020,"height":100,
 "layer":[
  {"data":{"name":"lum"},"mark":{"type":"line","strokeWidth":3.5,"color":"#E9A800"},
   "encoding":{
    "x":{"field":"t","type":"quantitative","scale":{"domain":[-1,7.92],"nice":false,"zero":false},"axis":{"orient":"bottom","values":[-1,0,1,2,3,4,5,6,7],"labels":false,"tickSize":-10,"tickWidth":2,"grid":true,"title":null}},
    "y":{"field":"v","type":"quantitative","scale":{"domain":[0,52.6],"nice":false,"zero":false},"axis":{"orient":"left","values":[0,10,20,30,40,50],"labelExpr":"datum.value == 0 ? '1' : datum.label","tickSize":-23,"tickWidth":2,"labelPadding":28,"grid":true,"title":"Lum(10³³)","titleFontSize":14,"titleX":-31,"titleY":50,"titleBaseline":"middle","titleAlign":"center"}},
    "detail":{"field":"g"}
   }},
  {"data":{"name":"lumPts"},"mark":{"type":"point","shape":"square","filled":true,"size":7,"opacity":1},
   "encoding":{
    "x":{"field":"t","type":"quantitative","scale":{"domain":[-1,7.92],"nice":false,"zero":false},"axis":{"orient":"bottom","values":[-0.6667,-0.3333,0.3333,0.6667,1.3333,1.6667,2.3333,2.6667,3.3333,3.6667,4.3333,4.6667,5.3333,5.6667,6.3333,6.6667,7.3333,7.6667],"labels":false,"tickSize":-5,"tickWidth":1.5,"grid":false,"title":null}},
    "y":{"field":"v","type":"quantitative","scale":{"domain":[0,52.6],"nice":false,"zero":false},"axis":{"orient":"left","values":[2,4,6,8,12,14,16,18,22,24,26,28,32,34,36,38,42,44,46,48,52],"labels":false,"tickSize":-8,"tickWidth":1.5,"grid":false,"title":null}},
    "color":{"datum":"51.1","scale":{"domain":["51.1"],"range":["#E9A800"]},"legend":{"orient":"none","legendX":186,"legendY":14,"padding":7,"labelOffset":30.2,"symbolType":"circle","symbolSize":30,"strokeColor":"#000","title":null}}
   }},
  {"data":{"name":"lsp"},"mark":{"type":"line","strokeWidth":3.5,"color":"#4E7D3C"},
   "encoding":{
    "x":{"field":"t","type":"quantitative","scale":{"domain":[-1,7.92],"nice":false,"zero":false},"axis":null},
    "y":{"field":"v","type":"quantitative","scale":{"domain":[0,100],"nice":false,"zero":false},"axis":{"orient":"right","values":[0,20,40,60,80,100],"tickSize":-15,"tickWidth":2,"labelPadding":24,"grid":false,"title":"Lₛₚ(10³⁰)","titleFontSize":14,"titleX":53,"titleY":50,"titleAngle":90,"titleBaseline":"middle","titleAlign":"center"}},
    "detail":{"field":"g"}
   }},
  {"data":{"name":"lspPts"},"mark":{"type":"point","shape":"square","filled":true,"size":7,"opacity":1},
   "encoding":{
    "x":{"field":"t","type":"quantitative","scale":{"domain":[-1,7.92],"nice":false,"zero":false},"axis":null},
    "y":{"field":"v","type":"quantitative","scale":{"domain":[0,100],"nice":false,"zero":false},"axis":{"orient":"right","values":[4,8,12,16,24,28,32,36,44,48,52,56,64,68,72,76,84,88,92,96],"labels":false,"tickSize":-7,"tickWidth":1.5,"grid":false,"title":null}},
    "color":{"datum":"29.9","scale":{"domain":["29.9"],"range":["#4E7D3C"]},"legend":{"orient":"none","legendX":186,"legendY":14,"padding":7,"labelOffset":30.2,"symbolType":"circle","symbolSize":30,"symbolOpacity":0,"strokeColor":"rgba(0,0,0,0)","title":null}}
   }}
 ],
 "resolve":{"scale":{"y":"independent","color":"independent"},"axis":{"x":"independent","y":"independent"},"legend":{"color":"independent"}}
},
{
 "width":1020,"height":100,
 "layer":[
  {"data":{"name":"sxrm"},"mark":{"type":"line","strokeWidth":4.5,"color":"#1020FF"},
   "encoding":{
    "x":{"field":"t","type":"quantitative","scale":{"domain":[-1,7.92],"nice":false,"zero":false},"axis":{"orient":"bottom","values":[-1,0,1,2,3,4,5,6,7],"labels":false,"tickSize":-10,"tickWidth":2,"grid":true,"title":null}},
    "y":{"field":"v","type":"quantitative","scale":{"domain":[0,1],"nice":false,"zero":false},"axis":{"orient":"left","values":[0.2,0.4,0.6,0.8,1],"labelExpr":"format(datum.value, '.1~f')","tickSize":-23,"tickWidth":2,"labelPadding":28,"grid":true,"title":"Σy* (μm)","titleFontSize":14,"titleX":-46,"titleY":50,"titleBaseline":"middle","titleAlign":"center"}},
    "detail":{"field":"g"}
   }},
  {"data":{"name":"slum"},"mark":{"type":"line","strokeWidth":4.5,"color":"#FF6347"},
   "encoding":{
    "x":{"field":"t","type":"quantitative","scale":{"domain":[-1,7.92],"nice":false,"zero":false},"axis":null},
    "y":{"field":"v","type":"quantitative","scale":{"domain":[0,1],"nice":false,"zero":false},"axis":null},
    "detail":{"field":"g"}
   }},
  {"data":{"name":"sxrmPts"},"mark":{"type":"point","shape":"square","filled":true,"size":7,"opacity":1},
   "encoding":{
    "x":{"field":"t","type":"quantitative","scale":{"domain":[-1,7.92],"nice":false,"zero":false},"axis":{"orient":"bottom","values":[-0.6667,-0.3333,0.3333,0.6667,1.3333,1.6667,2.3333,2.6667,3.3333,3.6667,4.3333,4.6667,5.3333,5.6667,6.3333,6.6667,7.3333,7.6667],"labels":false,"tickSize":-5,"tickWidth":1.5,"grid":false,"title":null}},
    "y":{"field":"v","type":"quantitative","scale":{"domain":[0,1],"nice":false,"zero":false},"axis":{"orient":"left","values":[0.04,0.08,0.12,0.16,0.24,0.28,0.32,0.36,0.44,0.48,0.52,0.56,0.64,0.68,0.72,0.76,0.84,0.88,0.92,0.96],"labels":false,"tickSize":-8,"tickWidth":1.5,"grid":false,"title":null}},
    "color":{"datum":"XRM\u00a0\u00a0.39","scale":{"domain":["XRM\u00a0\u00a0.39","Lum\u00a0\u00a0.37"],"range":["#1020FF","#FF6347"]},"legend":{"orient":"none","legendX":156,"legendY":14.7,"padding":7,"rowPadding":5.4,"labelOffset":20.2,"symbolType":"circle","symbolSize":30,"strokeColor":"#000","title":null}}
   }},
  {"data":{"name":"slumPts"},"mark":{"type":"point","shape":"square","filled":true,"size":7,"opacity":1},
   "encoding":{
    "x":{"field":"t","type":"quantitative","scale":{"domain":[-1,7.92],"nice":false,"zero":false},"axis":null},
    "y":{"field":"v","type":"quantitative","scale":{"domain":[0,1],"nice":false,"zero":false},"axis":null},
    "color":{"datum":"Lum\u00a0\u00a0.37"}
   }}
 ],
 "resolve":{"axis":{"x":"independent","y":"independent"}}
},
{
 "width":1020,"height":100,
 "layer":[
  {"data":{"name":"hey"},"mark":{"type":"line","strokeWidth":9,"color":"#0A0A85","strokeJoin":"round"},
   "encoding":{
    "x":{"field":"t","type":"quantitative","scale":{"domain":[-1,7.92],"nice":false,"zero":false},"axis":{"orient":"bottom","values":[-1,0,1,2,3,4,5,6,7],"labels":false,"tickSize":-10,"tickWidth":2,"grid":true,"title":null}},
    "y":{"field":"v","type":"quantitative","scale":{"domain":[0,200],"nice":false,"zero":false},"axis":{"orient":"left","values":[50,100,150,200],"tickSize":-23,"tickWidth":2,"labelPadding":28,"grid":true,"title":"HER εy* (pm)","titleFontSize":13,"titleX":-45.5,"titleY":50,"titleBaseline":"middle","titleAlign":"center"}},
    "detail":{"field":"g"}
   }},
  {"data":{"name":"heyPts"},"mark":{"type":"point","shape":"square","filled":true,"size":7,"opacity":1},
   "encoding":{
    "x":{"field":"t","type":"quantitative","scale":{"domain":[-1,7.92],"nice":false,"zero":false},"axis":{"orient":"bottom","values":[-0.6667,-0.3333,0.3333,0.6667,1.3333,1.6667,2.3333,2.6667,3.3333,3.6667,4.3333,4.6667,5.3333,5.6667,6.3333,6.6667,7.3333,7.6667],"labels":false,"tickSize":-5,"tickWidth":1.5,"grid":false,"title":null}},
    "y":{"field":"v","type":"quantitative","scale":{"domain":[0,200],"nice":false,"zero":false},"axis":{"orient":"left","values":[10,20,30,40,60,70,80,90,110,120,130,140,160,170,180,190],"labels":false,"tickSize":-8,"tickWidth":1.5,"grid":false,"title":null}},
    "color":{"datum":"126.","scale":{"domain":["126."],"range":["#0A0A85"]},"legend":{"orient":"none","legendX":186,"legendY":14.7,"padding":7,"labelOffset":30.2,"symbolType":"circle","symbolSize":30,"strokeColor":"#000","title":null}}
   }}
 ],
 "resolve":{"axis":{"x":"independent","y":"independent"}}
},
{
 "width":1020,"height":100,
 "layer":[
  {"data":{"name":"ley"},"mark":{"type":"line","strokeWidth":8,"color":"#FF0A8F","strokeJoin":"round"},
   "encoding":{
    "x":{"field":"t","type":"quantitative","scale":{"domain":[-1,7.92],"nice":false,"zero":false},"axis":{"orient":"bottom","values":[-1,0,1,2,3,4,5,6,7],"labels":false,"tickSize":-10,"tickWidth":2,"grid":true,"title":null}},
    "y":{"field":"v","type":"quantitative","scale":{"domain":[0,212.8],"nice":false,"zero":false},"axis":{"orient":"left","values":[0,50,100,150,200],"labelExpr":"datum.value == 0 ? '10' : datum.label","tickSize":-23,"tickWidth":2,"labelPadding":28,"grid":true,"title":"LER εy* (pm)","titleFontSize":11.5,"titleFontWeight":"normal","titleX":-44,"titleY":50,"titleBaseline":"middle","titleAlign":"center"}},
    "detail":{"field":"g"}
   }},
  {"data":{"name":"leyPts"},"mark":{"type":"point","shape":"square","filled":true,"size":7,"opacity":1},
   "encoding":{
    "x":{"field":"t","type":"quantitative","scale":{"domain":[-1,7.92],"nice":false,"zero":false},"axis":{"orient":"bottom","values":[-0.6667,-0.3333,0.3333,0.6667,1.3333,1.6667,2.3333,2.6667,3.3333,3.6667,4.3333,4.6667,5.3333,5.6667,6.3333,6.6667,7.3333,7.6667],"labels":false,"tickSize":-5,"tickWidth":1.5,"grid":false,"title":null}},
    "y":{"field":"v","type":"quantitative","scale":{"domain":[0,212.8],"nice":false,"zero":false},"axis":{"orient":"left","values":[10,20,30,40,60,70,80,90,110,120,130,140,160,170,180,190,210],"labels":false,"tickSize":-8,"tickWidth":1.5,"grid":false,"title":null}},
    "color":{"datum":"44.8","scale":{"domain":["44.8"],"range":["#FF0A8F"]},"legend":{"orient":"none","legendX":186,"legendY":14.7,"padding":7,"labelOffset":30.2,"symbolType":"circle","symbolSize":30,"strokeColor":"#000","title":null}}
   }}
 ],
 "resolve":{"axis":{"x":"independent","y":"independent"}}
},
{
 "width":1020,"height":100,
 "layer":[
  {"data":{"name":"hex"},"mark":{"type":"line","strokeWidth":5,"color":"#0A0A85","strokeJoin":"round"},
   "encoding":{
    "x":{"field":"t","type":"quantitative","scale":{"domain":[-1,7.92],"nice":false,"zero":false},"axis":{"orient":"bottom","values":[-1,0,1,2,3,4,5,6,7],"labels":false,"tickSize":-10,"tickWidth":2,"grid":true,"title":null}},
    "y":{"field":"v","type":"quantitative","scale":{"domain":[0,10],"nice":false,"zero":false},"axis":{"orient":"left","values":[2,4,6,8,10],"tickSize":-23,"tickWidth":2,"labelPadding":28,"grid":true,"title":"HER εx* (nm)","titleFontSize":13,"titleX":-35.5,"titleY":50,"titleBaseline":"middle","titleAlign":"center"}},
    "detail":{"field":"g"}
   }},
  {"data":{"name":"hexPts"},"mark":{"type":"point","shape":"square","filled":true,"size":7,"opacity":1},
   "encoding":{
    "x":{"field":"t","type":"quantitative","scale":{"domain":[-1,7.92],"nice":false,"zero":false},"axis":{"orient":"bottom","values":[-0.6667,-0.3333,0.3333,0.6667,1.3333,1.6667,2.3333,2.6667,3.3333,3.6667,4.3333,4.6667,5.3333,5.6667,6.3333,6.6667,7.3333,7.6667],"labels":false,"tickSize":-5,"tickWidth":1.5,"grid":false,"title":null}},
    "y":{"field":"v","type":"quantitative","scale":{"domain":[0,10],"nice":false,"zero":false},"axis":{"orient":"left","values":[0.667,1.333,2.667,3.333,4.667,5.333,6.667,7.333,8.667,9.333],"labels":false,"tickSize":-8,"tickWidth":1.5,"grid":false,"title":null}},
    "color":{"datum":"5.68","scale":{"domain":["5.68"],"range":["#0A0A85"]},"legend":{"orient":"none","legendX":186,"legendY":14.7,"padding":7,"labelOffset":30.2,"symbolType":"circle","symbolSize":30,"strokeColor":"#000","title":null}}
   }}
 ],
 "resolve":{"axis":{"x":"independent","y":"independent"}}
},
{
 "width":1020,"height":100,
 "layer":[
  {"data":{"name":"lex"},"mark":{"type":"line","strokeWidth":11,"color":"#FF0A8F","strokeJoin":"round"},
   "encoding":{
    "x":{"field":"t","type":"quantitative","scale":{"domain":[-1,7.92],"nice":false,"zero":false},"axis":{"orient":"bottom","values":[-1,0,1,2,3,4,5,6,7],"labels":true,"labelExpr":"datum.value == -1 ? ['\u2800\u280023ʰ0ᵐ0ˢ', '5/16/2026'] : datum.value == 0 ? ['0ʰ0ᵐ', '5/17'] : datum.value + 'ʰ'","labelFontSize":23,"labelPadding":23,"labelLineHeight":24,"labelBaseline":"top","labelAlign":"center","labelColor":"#111","tickSize":-10,"tickWidth":2,"grid":true,"title":null}},
    "y":{"field":"v","type":"quantitative","scale":{"domain":[0,10],"nice":false,"zero":false},"axis":{"orient":"left","values":[2,4,6,8,10],"tickSize":-23,"tickWidth":2,"labelPadding":28,"grid":true,"title":"LER εx* (nm)","titleFontSize":13,"titleX":-36,"titleY":50,"titleBaseline":"middle","titleAlign":"center"}},
    "detail":{"field":"g"}
   }},
  {"data":{"name":"lexPts"},"mark":{"type":"point","shape":"square","filled":true,"size":7,"opacity":1},
   "encoding":{
    "x":{"field":"t","type":"quantitative","scale":{"domain":[-1,7.92],"nice":false,"zero":false},"axis":{"orient":"bottom","values":[-0.6667,-0.3333,0.3333,0.6667,1.3333,1.6667,2.3333,2.6667,3.3333,3.6667,4.3333,4.6667,5.3333,5.6667,6.3333,6.6667,7.3333,7.6667],"labels":false,"tickSize":-5,"tickWidth":1.5,"grid":false,"title":null}},
    "y":{"field":"v","type":"quantitative","scale":{"domain":[0,10],"nice":false,"zero":false},"axis":{"orient":"left","values":[0.667,1.333,2.667,3.333,4.667,5.333,6.667,7.333,8.667,9.333],"labels":false,"tickSize":-8,"tickWidth":1.5,"grid":false,"title":null}},
    "color":{"datum":"9.90","scale":{"domain":["9.90"],"range":["#FF0A8F"]},"legend":{"orient":"none","legendX":906,"legendY":14,"padding":7,"labelOffset":30.2,"symbolType":"circle","symbolSize":30,"strokeColor":"#000","title":null}}
   }}
 ],
 "resolve":{"axis":{"x":"independent","y":"independent"}}
}
]
}
